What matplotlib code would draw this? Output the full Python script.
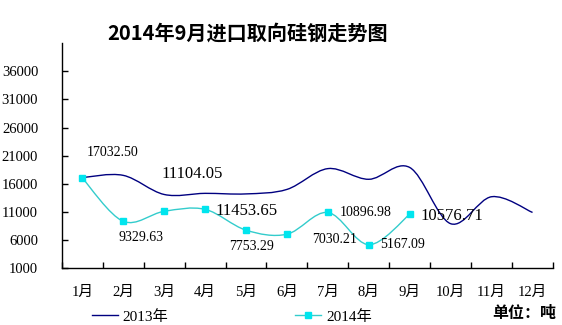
import numpy as np
import matplotlib
matplotlib.use('Agg')
import matplotlib.pyplot as plt
from matplotlib.path import Path
from matplotlib.patches import PathPatch
from matplotlib.lines import Line2D

plt.rcParams['font.family'] = ['Liberation Serif', 'Noto Sans CJK SC']

months = ['1月', '2月', '3月', '4月', '5月', '6月', '7月', '8月', '9月', '10月', '11月', '12月']
values_2013 = [17100, 17500, 14100, 14300, 14200, 15000, 18700, 16800, 18900, 8900, 13700, 10900]
values_2014 = [17032.50, 9329.63, 11104.05, 11453.65, 7753.29, 7030.21, 10896.98, 5167.09, 10576.71]
label_offsets = [(22, 18), (13, -12), (20, 27), (30, -1), (4, -12), (34, -4), (27, 0), (24, 0), (30, -1)]
label_sizes = [10, 10, 12, 12, 10, 10, 10, 10, 12]
y_ticks = [1000, 6000, 11000, 16000, 21000, 26000, 31000, 36000]


def smooth_path(xs, ys):
    # Excel-like smoothed line: cubic Bezier segments through every point
    pts = np.column_stack([xs, ys]).astype(float)
    n = len(pts)
    verts = [pts[0]]
    codes = [Path.MOVETO]
    for i in range(n - 1):
        p0 = pts[i - 1] if i > 0 else pts[i]
        p1 = pts[i]
        p2 = pts[i + 1]
        p3 = pts[i + 2] if i + 2 < n else pts[i + 1]
        c1 = p1 + (p2 - p0) / 6.0
        c2 = p2 - (p3 - p1) / 6.0
        verts += [c1, c2, p2]
        codes += [Path.CURVE4] * 3
    return Path(verts, codes)


fig = plt.figure(figsize=(5.62, 3.25), dpi=100)
ax = fig.add_axes([0.110, 0.175, 0.874, 0.692])

x13 = np.arange(len(values_2013))
x14 = np.arange(len(values_2014))
ax.add_patch(PathPatch(smooth_path(x13, values_2013), facecolor='none', edgecolor='#000080', lw=1.0, zorder=2))
ax.add_patch(PathPatch(smooth_path(x14, values_2014), facecolor='none', edgecolor='#33CCCC', lw=1.0, zorder=3))
ax.plot(x14, values_2014, linestyle='none', marker='s', markersize=5, color='#00E5EE', zorder=4)

for i, v in enumerate(values_2014):
    ax.annotate(f'{v:.2f}', (i, v), xytext=label_offsets[i], textcoords='offset points',
                ha='center', va='center', fontsize=label_sizes[i])

ax.set_xlim(-0.5, 11.5)
ax.set_ylim(1000, 41000)
ax.set_yticks(y_ticks)
ax.set_xticks(x13)
ax.set_xticklabels(months)
ax.set_xticks(np.arange(-0.5, 12, 1), minor=True)
ax.tick_params(axis='x', which='major', length=0, pad=13, labelsize=10.5)
ax.tick_params(axis='x', which='minor', direction='in', length=4, width=1)
ax.tick_params(axis='y', direction='in', length=4, width=1, pad=17, labelsize=10.5)
for lab in ax.get_yticklabels():
    lab.set_horizontalalignment('right')
ax.spines['top'].set_visible(False)
ax.spines['right'].set_visible(False)
ax.spines['left'].set_linewidth(1)
ax.spines['bottom'].set_linewidth(1)

fig.text(0.44, 0.898, '2014年9月进口取向硅钢走势图', ha='center', va='center',
         fontsize=14.5, fontweight='bold', family=['Noto Sans CJK SC'])

handles = [Line2D([], [], color='#000080', lw=1.0),
           Line2D([], [], color='#33CCCC', lw=1.0, marker='s', markersize=5, markerfacecolor='#00E5EE', markeredgecolor='#00E5EE')]
fig.legend(handles, ['2013年', '2014年'], loc='center left', bbox_to_anchor=(0.163, 0.026), ncol=2,
           frameon=False, fontsize=11, handlelength=1.7, handletextpad=0.3, columnspacing=8.35,
           borderpad=0, borderaxespad=0)

fig.text(0.99, 0.037, '单位：吨', ha='right', va='center', fontsize=11.5, fontweight='bold',
         family=['Noto Sans CJK SC'])

fig.savefig('out.png', dpi=100)
